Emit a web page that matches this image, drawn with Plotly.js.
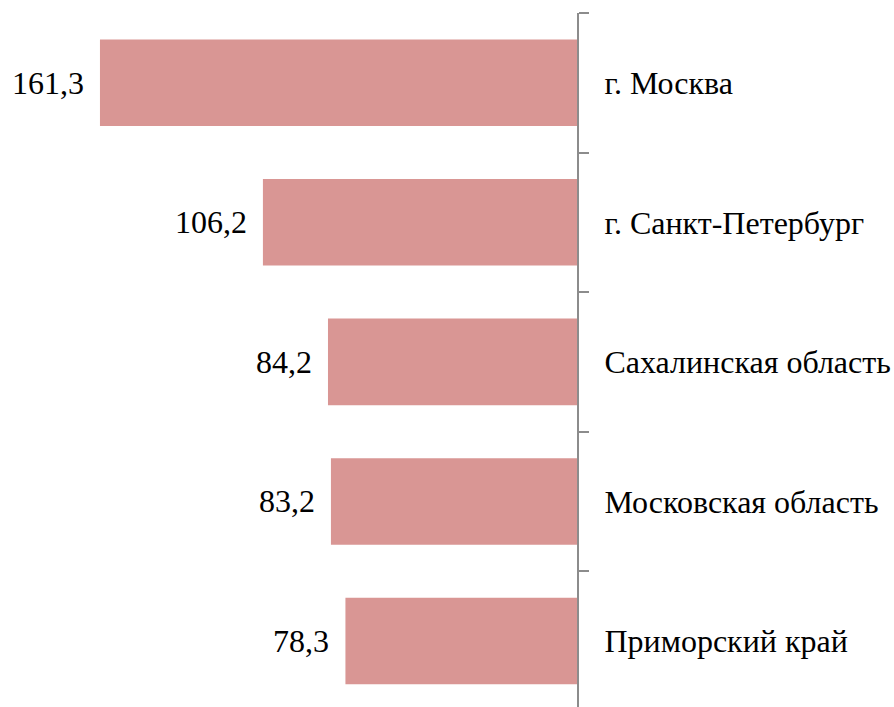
<!DOCTYPE html>
<html>
<head>
<meta charset="utf-8">
<script src="https://cdn.plot.ly/plotly-3.0.1.min.js"></script>
<style>html,body{margin:0;padding:0;background:#fff;}#chart{width:894px;height:707px;}</style>
</head>
<body>
<div id="chart"></div>
<script>
const regions = ["г. Москва", "г. Санкт-Петербург", "Сахалинская область", "Московская область", "Приморский край"];
const values = [161.3, 106.2, 84.2, 83.2, 78.3];
const valueLabels = ["161,3", "106,2", "84,2", "83,2", "78,3"];

const fontFam = 'Liberation Serif';

const trace = {
  type: 'bar',
  orientation: 'h',
  x: values,
  y: regions,
  width: 0.62,
  marker: {color: '#D99694'},
  hoverinfo: 'none'
};

const annotations = regions.map((r, i) => ({
  x: values[i], y: r, xref: 'x', yref: 'y',
  text: valueLabels[i], showarrow: false,
  xanchor: 'right', yanchor: 'middle', xshift: -14,
  font: {family: fontFam, size: 32, color: '#000'}
}));

const layout = {
  width: 894, height: 707,
  margin: {l: 0, r: 317, t: 13, b: 0, pad: 0},
  paper_bgcolor: '#fff', plot_bgcolor: '#fff',
  font: {family: fontFam, size: 32, color: '#000'},
  showlegend: false,
  xaxis: {range: [195.1, 0], visible: false, showgrid: false, zeroline: false, fixedrange: true},
  yaxis: {
    type: 'category',
    range: [4.473, -0.5],
    side: 'right',
    showline: true, linecolor: '#8c8c8c', linewidth: 2,
    ticks: 'outside', tickson: 'boundaries', ticklen: 10, tickwidth: 2, tickcolor: '#8c8c8c',
    ticklabelstandoff: 19,
    showgrid: false, zeroline: false,
    tickfont: {family: fontFam, size: 32, color: '#000'},
    fixedrange: true
  },
  annotations: annotations
};

Plotly.newPlot('chart', [trace], layout, {displayModeBar: false, staticPlot: true});
</script>
</body>
</html>
